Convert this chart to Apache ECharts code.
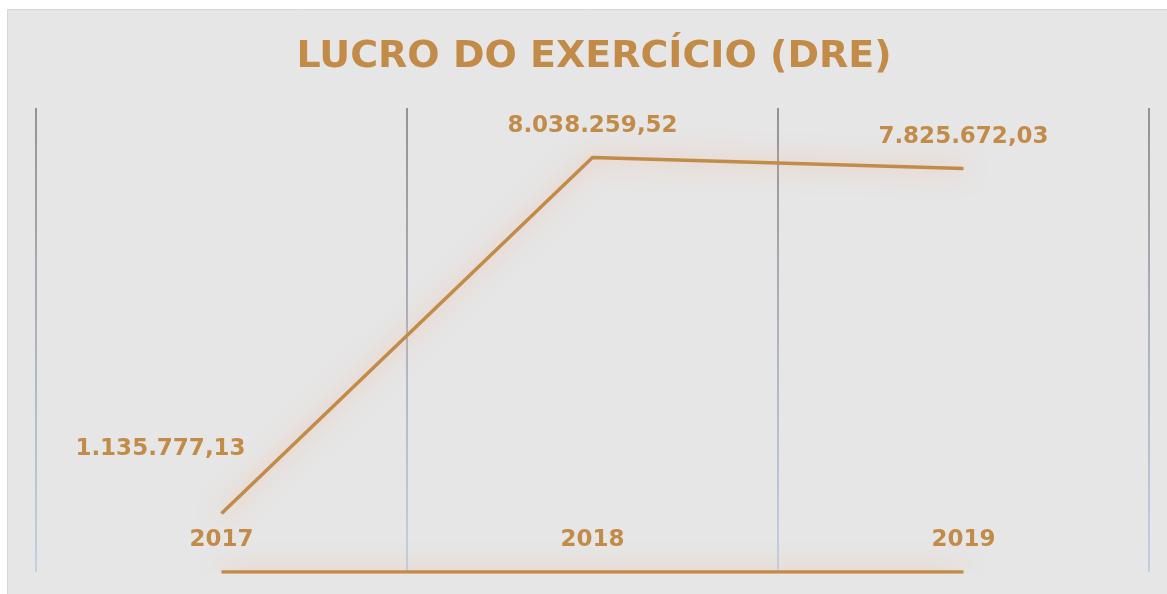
<!DOCTYPE html>
<html>
<head>
<meta charset="utf-8">
<script src="https://cdn.jsdelivr.net/npm/echarts@6/dist/echarts.min.js"></script>
<style>
  html, body { margin: 0; padding: 0; background: #ffffff; }
  #chart { width: 1167px; height: 594px; }
</style>
</head>
<body>
<div id="chart"></div>
<script>
var anos = ['2017', '2018', '2019']
var lucro = [1135777.13, 8038259.52, 7825672.03]
var base = [0, 0, 0]

var cor = '#c28b48'
var fonte = '"DejaVu Sans", Verdana, sans-serif'

// formato brasileiro: 1.234.567,89
function formatBR (v) {
  var partes = v.toFixed(2).split('.')
  return partes[0].replace(/\B(?=(\d{3})+(?!\d))/g, '.') + ',' + partes[1]
}

var brilho = {
  color: cor,
  width: 3.5,
  shadowColor: 'rgba(245, 165, 125, 1)',
  shadowBlur: 24
}

var chart = echarts.init(document.getElementById('chart'))
chart.setOption({
  animation: false,
  graphic: [{
    type: 'rect',
    z: -10,
    silent: true,
    shape: { x: 7.5, y: 9.5, width: 1170, height: 600 },
    style: { fill: '#e6e6e6', stroke: '#d6d6d6', lineWidth: 1 }
  }],
  title: {
    text: 'LUCRO DO EXERCÍCIO (DRE)',
    left: 589,
    textAlign: 'center',
    top: 33,
    textStyle: { color: cor, fontSize: 38, fontWeight: 'bold', fontFamily: fonte }
  },
  grid: { left: 36, right: 18, top: 108, bottom: 22 },
  xAxis: {
    type: 'category',
    data: anos,
    boundaryGap: true,
    axisLine: { show: false },
    axisTick: { show: false },
    axisLabel: {
      inside: true,
      margin: 20,
      color: cor,
      fontSize: 23,
      fontWeight: 'bold',
      fontFamily: fonte
    },
    splitLine: {
      show: true,
      interval: 0,
      lineStyle: {
        width: 1.5,
        color: {
          type: 'linear', global: true,
          x: 0, y: 108, x2: 0, y2: 572,
          colorStops: [
            { offset: 0, color: '#777777' },
            { offset: 0.5, color: '#9aa3b3' },
            { offset: 1, color: '#b4c7e7' }
          ]
        }
      }
    }
  },
  yAxis: {
    type: 'value',
    min: 0,
    max: 9000000,
    show: false,
    splitLine: { show: false }
  },
  series: [
    {
      name: 'Lucro',
      type: 'line',
      data: lucro.map(function (v, i) {
        var item = { value: v }
        if (i === 0) item.label = { offset: [-61, -33] }
        return item
      }),
      symbol: 'circle',
      symbolSize: 0,
      showSymbol: true,
      lineStyle: brilho,
      label: {
        show: true,
        position: 'top',
        distance: 20,
        color: cor,
        fontSize: 23,
        fontWeight: 'bold',
        fontFamily: fonte,
        formatter: function (p) { return formatBR(p.value) }
      },
      z: 3
    },
    {
      name: 'Base',
      type: 'line',
      data: base,
      symbol: 'none',
      lineStyle: brilho,
      z: 3
    }
  ]
})
</script>
</body>
</html>
